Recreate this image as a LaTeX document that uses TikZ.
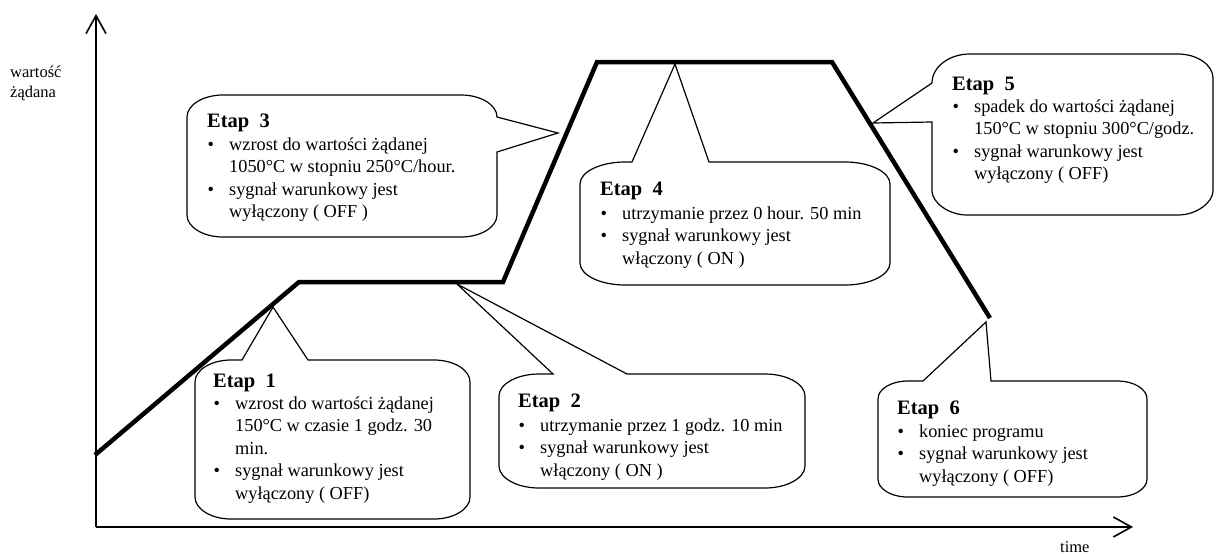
\documentclass[tikz,border=0pt]{standalone}
\usepackage{fontspec}
\setmainfont{Liberation Serif}
\usetikzlibrary{arrows.meta}

\newcommand\bodyfont{\fontsize{18.3}{22.5}\selectfont}
\newcommand\titlefont{\fontsize{20.5}{24}\selectfont\bfseries}
\newcommand\axisfont{\fontsize{16.5}{20}\selectfont}
% bullet list with hanging indent
\newenvironment{stagelist}{\begin{tabular}[t]{@{}p{22pt}@{}l@{}}}{\end{tabular}}
\newcommand\bul{\hspace{0.5pt}\textbullet}

\tikzset{
  axis/.style={line width=1.6pt, -{Straight Barb[length=18pt,width=20pt,line width=1.6pt]}},
  profile/.style={line width=4.5pt, line join=miter},
  callout/.style={line width=1.2pt, line join=miter, fill=white},
  stagetitle/.style={anchor=base west, inner sep=0pt, font=\titlefont},
  stagebody/.style={anchor=base west, inner sep=0pt, font=\bodyfont},
  axislabel/.style={anchor=base west, inner sep=0pt, font=\axisfont}
}

\begin{document}
\begin{tikzpicture}[x=1pt, y=-1pt]
\useasboundingbox (0,0) rectangle (1216,554);

% axes
\coordinate (origin) at (96,527);
\coordinate (ytop) at (96,14);
\coordinate (xend) at (1133,527);
\draw[axis] (origin) -- (ytop);
\draw[axis] (origin) -- (xend);
\node[axislabel] (ylab1) at (10,77) {wartość};
\node[axislabel] (ylab2) at (10,97) {żądana};
\node[axislabel] (xlab) at (1060,552) {time};

% set-point profile
\coordinate (p0) at (95,455);
\coordinate (p1) at (299,282);
\coordinate (p2) at (503,282);
\coordinate (p3) at (597,62);
\coordinate (p4) at (832,62);
\coordinate (p5) at (990,318);
\draw[profile] (p0) -- (p1) -- (p2) -- (p3) -- (p4) -- (p5);

% stage 1
\draw[callout] (231,360) -- (242,360) -- (273,307) -- (308,360) -- (434,360)
  .. controls (454,360) and (470,370) .. (470,382) -- (470,497)
  .. controls (470,509) and (454,519) .. (434,519) -- (231,519)
  .. controls (211,519) and (195,509) .. (195,497) -- (195,382)
  .. controls (195,370) and (211,360) .. cycle;
\node[stagetitle] (t1) at (213,387) {Etap\ \ 1};
\node[stagebody] (b1) at (213,409) {\begin{stagelist}
\bul & wzrost do wartości żądanej\\
     & 150°C w czasie 1 godz. 30\\
     & min.\\
\bul & sygnał warunkowy jest\\
     & wyłączony ( OFF)
\end{stagelist}};

% stage 2
\draw[callout] (539,374) -- (553,374) -- (457,284) -- (627,374) -- (765,374)
  .. controls (787,374) and (805,384) .. (805,396) -- (805,466)
  .. controls (805,478) and (787,488) .. (765,488) -- (539,488)
  .. controls (517,488) and (499,478) .. (499,466) -- (499,396)
  .. controls (499,384) and (517,374) .. cycle;
\node[stagetitle] (t2) at (518,407) {Etap\ \ 2};
\node[stagebody] (b2) at (518,431) {\begin{stagelist}
\bul & utrzymanie przez 1 godz. 10 min\\
\bul & sygnał warunkowy jest\\
     & włączony ( ON )
\end{stagelist}};

% stage 3
\draw[callout] (223,95) -- (461,95)
  .. controls (481,95) and (497,105) .. (497,117) -- (558,133) -- (497,152) -- (497,215)
  .. controls (497,227) and (481,237) .. (461,237) -- (223,237)
  .. controls (203,237) and (187,227) .. (187,215) -- (187,117)
  .. controls (187,105) and (203,95) .. cycle;
\node[stagetitle] (t3) at (207,127) {Etap\ \ 3};
\node[stagebody] (b3) at (207,150) {\begin{stagelist}
\bul & wzrost do wartości żądanej\\
     & 1050°C w stopniu 250°C/hour.\\
\bul & sygnał warunkowy jest\\
     & wyłączony ( OFF )
\end{stagelist}};

% stage 4
\draw[callout] (625,162) -- (632,162) -- (675,64) -- (709,162) -- (845,162)
  .. controls (870,162) and (890,172) .. (890,184) -- (890,263)
  .. controls (890,275) and (870,285) .. (845,285) -- (625,285)
  .. controls (600,285) and (580,275) .. (580,263) -- (580,184)
  .. controls (580,172) and (600,162) .. cycle;
\node[stagetitle] (t4) at (600,195) {Etap\ \ 4};
\node[stagebody] (b4) at (600,219) {\begin{stagelist}
\bul & utrzymanie przez 0 hour. 50 min\\
\bul & sygnał warunkowy jest\\
     & włączony ( ON )
\end{stagelist}};

% stage 5
\draw[callout] (970,54) -- (1178,54)
  .. controls (1197,54) and (1213,65) .. (1213,78) -- (1213,191)
  .. controls (1213,202) and (1197,215) .. (1178,215) -- (967,215)
  .. controls (948,215) and (932,202) .. (932,191) -- (932,122) -- (873,123) -- (932,83)
  .. controls (932,67) and (949,54) .. cycle;
\node[stagetitle] (t5) at (952,90) {Etap\ \ 5};
\node[stagebody] (b5) at (952,112) {\begin{stagelist}
\bul & spadek do wartości żądanej\\
     & 150°C w stopniu 300°C/godz.\\
\bul & sygnał warunkowy jest\\
     & wyłączony ( OFF)
\end{stagelist}};

% stage 6
\draw[callout] (908,381) -- (923,381) -- (986,322) -- (991,381) -- (1117,381)
  .. controls (1134,381) and (1147,389) .. (1147,399) -- (1147,479)
  .. controls (1147,489) and (1134,497) .. (1117,497) -- (908,497)
  .. controls (891,497) and (878,489) .. (878,479) -- (878,399)
  .. controls (878,389) and (891,381) .. cycle;
\node[stagetitle] (t6) at (897,414) {Etap\ \ 6};
\node[stagebody] (b6) at (897,437) {\begin{stagelist}
\bul & koniec programu\\
\bul & sygnał warunkowy jest\\
     & wyłączony ( OFF)
\end{stagelist}};
\end{tikzpicture}
\end{document}
